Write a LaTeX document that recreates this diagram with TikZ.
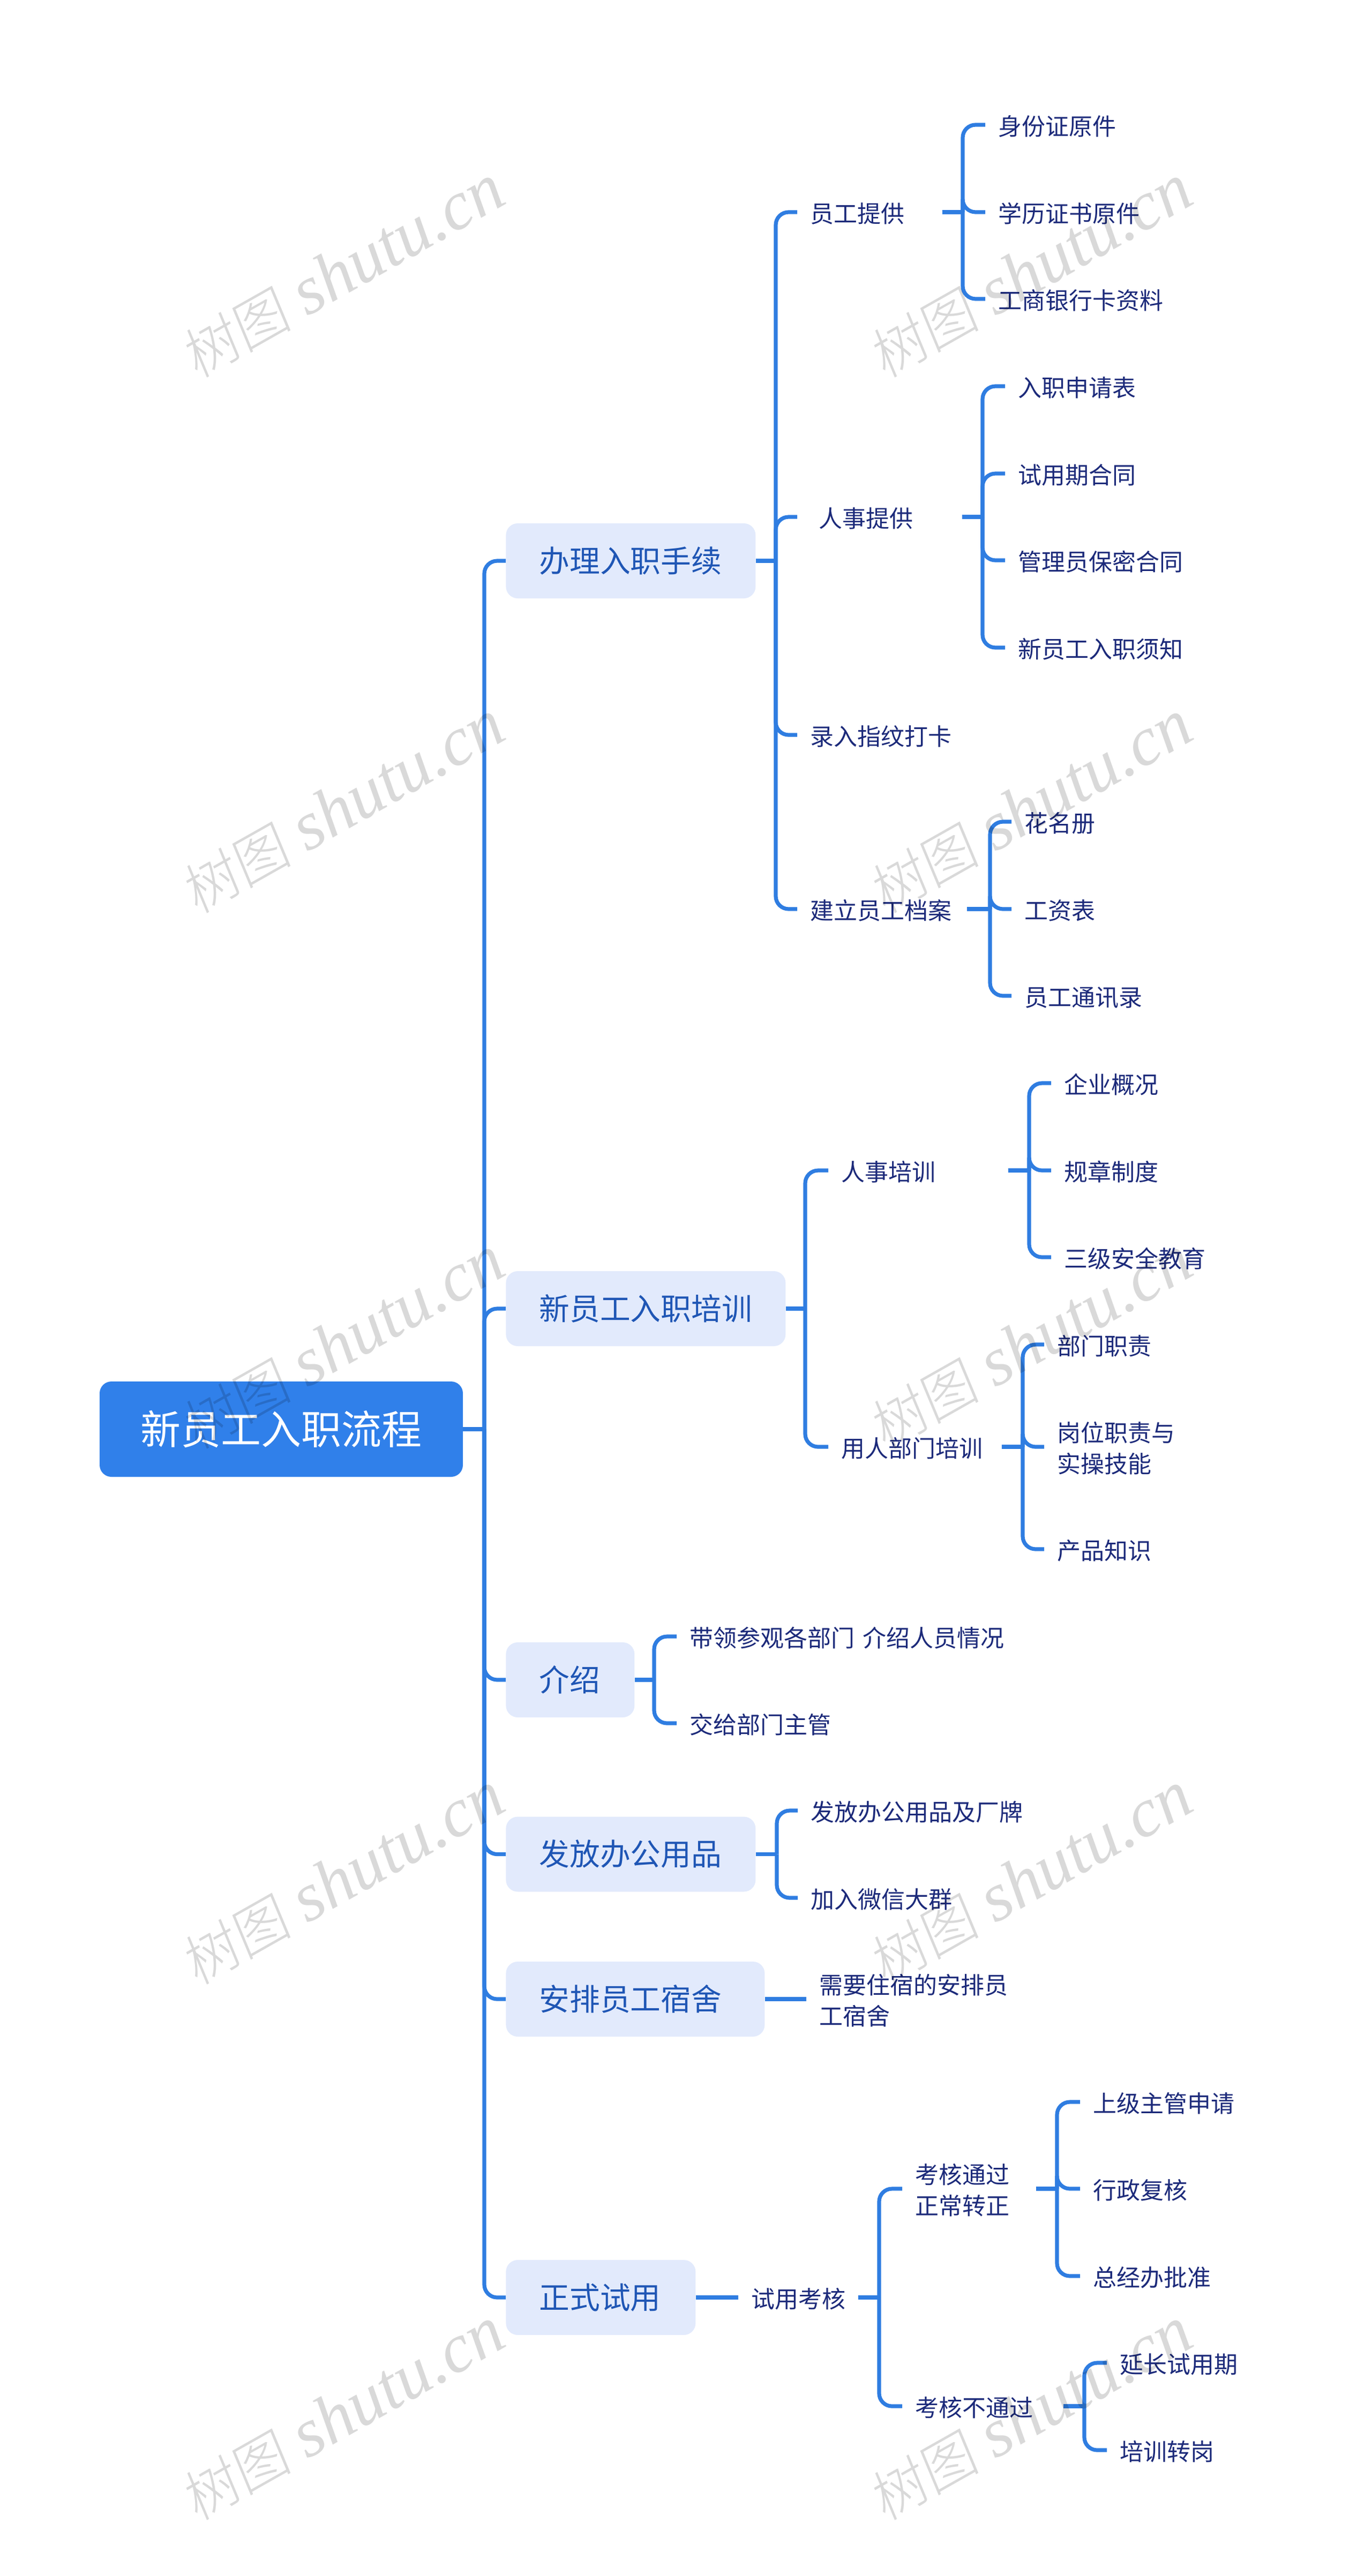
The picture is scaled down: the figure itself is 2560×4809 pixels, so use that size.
\documentclass[tikz,border=0pt]{standalone}
\usepackage{fontspec}
\setmainfont{Noto Sans CJK SC}
\newfontfamily\wmcjk[FakeSlant=0.12]{Noto Sans CJK SC Light}
\newfontfamily\wmlat{Liberation Serif}
\definecolor{linec}{HTML}{2F7DE1}
\definecolor{rootc}{HTML}{3080EA}
\definecolor{boxc}{HTML}{E2EAFC}
\definecolor{onec}{HTML}{1F56B5}
\definecolor{leafc}{HTML}{1C2A7A}
\newcommand{\sv}{\rule[-0.8pt]{0pt}{22pt}}
\newcommand{\svb}{\rule[-3pt]{0pt}{27pt}}
\tikzset{
  rootbox/.style={fill=rootc,rounded corners=11pt,text=white,minimum width=339pt,minimum height=89pt,inner sep=0pt,font=\fontsize{37.5}{44}\selectfont},
  onebox/.style={fill=boxc,rounded corners=11pt,text=onec,anchor=west,minimum height=70pt,inner xsep=31pt,inner ysep=0pt,align=left,font=\fontsize{28.4}{34}\selectfont},
  leaf/.style={anchor=west,text=leafc,inner xsep=12pt,inner ysep=0pt,align=left,font=\fontsize{22}{28.7}\selectfont},
  link/.style={draw=linec,line width=3.6pt},
  wm/.style={text=black,text opacity=0.15,rotate=29.5,inner sep=0pt,font=\fontsize{64.5}{70}\selectfont}
}
% name, left end, right end, y, text
\newcommand{\LF}[5]{%
  \pgfmathsetlengthmacro{\tw}{(#3-#2)*0.5pt-24pt}%
  \node[leaf,text width=\tw] (#1) at (#2,#4) {#5};}
\newcommand{\BX}[4]{%
  \pgfmathsetlengthmacro{\tw}{(#3-944)*0.5pt-62pt}%
  \node[onebox,text width=\tw] (#1) at (944,#2) {\svb #4};}
\newcommand{\conn}[3]{%
  \draw[link] (#1.east) -- (#3,0 |- #1.east);
  \draw[link,rounded corners=12pt] (#3,0 |- #1.east) -- (#3,0 |- #2.west) -- (#2.west);}
\newcommand{\connS}[2]{\draw[link] (#1.east) -- (#2.west);}
\newcommand{\wmtext}{{\wmcjk\fontsize{52}{70}\selectfont 树图} {\wmlat\itshape shutu.cn}}
\begin{document}
\begin{tikzpicture}[x=0.5pt,y=-0.5pt]
\path[use as bounding box,fill=white] (0,0) rectangle (2560,4809);
% root
\node[rootbox] (root) at (525,2668) {新员工入职流程};
% level one
\BX{a}{1047}{1410}{办理入职手续}
\BX{b}{2443}{1466}{新员工入职培训}
\BX{c}{3136}{1184}{介绍}
\BX{d}{3461.5}{1410}{发放办公用品}
\BX{e}{3732}{1427}{安排员工宿舍}
\BX{f}{4289}{1298}{正式试用}
\foreach \n in {a,b,c,d,e,f}{\conn{root}{\n}{904}}
% a
\LF{a1}{1488}{1758}{396}{\sv 员工提供}
\LF{a2}{1488}{1795}{965}{\hspace*{8pt}\sv 人事提供}
\LF{a3}{1488}{1806}{1372}{\sv 录入指纹打卡}
\LF{a4}{1488}{1804}{1697}{\sv 建立员工档案}
\foreach \n in {a1,a2,a3,a4}{\conn{a}{\n}{1448}}
\LF{a11}{1839}{2300}{233}{\sv 身份证原件}
\LF{a12}{1839}{2300}{396}{\sv 学历证书原件}
\LF{a13}{1839}{2300}{558}{\sv 工商银行卡资料}
\foreach \n in {a11,a12,a13}{\conn{a1}{\n}{1797}}
\LF{a21}{1876}{2300}{721}{\sv 入职申请表}
\LF{a22}{1876}{2300}{884}{\sv 试用期合同}
\LF{a23}{1876}{2300}{1046}{\sv 管理员保密合同}
\LF{a24}{1876}{2300}{1209}{\sv 新员工入职须知}
\foreach \n in {a21,a22,a23,a24}{\conn{a2}{\n}{1834}}
\LF{a41}{1888}{2300}{1534}{\sv 花名册}
\LF{a42}{1888}{2300}{1697}{\sv 工资表}
\LF{a43}{1888}{2300}{1859}{\sv 员工通讯录}
\foreach \n in {a41,a42,a43}{\conn{a4}{\n}{1848}}
% b
\LF{b1}{1546}{1881}{2185}{\sv 人事培训}
\LF{b2}{1546}{1869}{2701}{\sv 用人部门培训}
\foreach \n in {b1,b2}{\conn{b}{\n}{1503}}
\LF{b11}{1962}{2400}{2022}{\sv 企业概况}
\LF{b12}{1962}{2400}{2185}{\sv 规章制度}
\LF{b13}{1962}{2400}{2347}{\sv 三级安全教育}
\foreach \n in {b11,b12,b13}{\conn{b1}{\n}{1921}}
\LF{b21}{1949}{2400}{2510}{\sv 部门职责}
\LF{b22}{1949}{2400}{2701}{\sv 岗位职责与\\\sv 实操技能}
\LF{b23}{1949}{2400}{2892}{\sv 产品知识}
\foreach \n in {b21,b22,b23}{\conn{b2}{\n}{1909}}
% c
\LF{c1}{1263}{2000}{3055}{\sv 带领参观各部门 介绍人员情况}
\LF{c2}{1263}{2000}{3217}{\sv 交给部门主管}
\foreach \n in {c1,c2}{\conn{c}{\n}{1221}}
% d
\LF{d1}{1489}{2100}{3380}{\sv 发放办公用品及厂牌}
\LF{d2}{1489}{2100}{3543}{\sv 加入微信大群}
\foreach \n in {d1,d2}{\conn{d}{\n}{1450}}
% e
\LF{e1}{1505}{2000}{3732}{\sv 需要住宿的安排员\\\sv 工宿舍}
\connS{e}{e1}
% f
\LF{f1}{1378}{1601}{4289}{\sv 试用考核}
\connS{f}{f1}
\LF{f11}{1684}{1933}{4086}{\sv 考核通过\\\sv 正常转正}
\LF{f12}{1684}{1984}{4492}{\sv 考核不通过}
\foreach \n in {f11,f12}{\conn{f1}{\n}{1641}}
\LF{f111}{2016}{2500}{3924}{\sv 上级主管申请}
\LF{f112}{2016}{2500}{4086}{\sv 行政复核}
\LF{f113}{2016}{2500}{4249}{\sv 总经办批准}
\foreach \n in {f111,f112,f113}{\conn{f11}{\n}{1973}}
\LF{f121}{2066}{2500}{4411}{\sv 延长试用期}
\LF{f122}{2066}{2500}{4574}{\sv 培训转岗}
\foreach \n in {f121,f122}{\conn{f12}{\n}{2024}}
% watermarks
\foreach \i/\yy in {1/507,2/1507,3/2507,4/3507,5/4507}{
  \node[wm] (wa\i) at (639,\yy) {\wmtext};
  \node[wm] (wb\i) at (1923,\yy) {\wmtext};
}
\end{tikzpicture}
\end{document}
